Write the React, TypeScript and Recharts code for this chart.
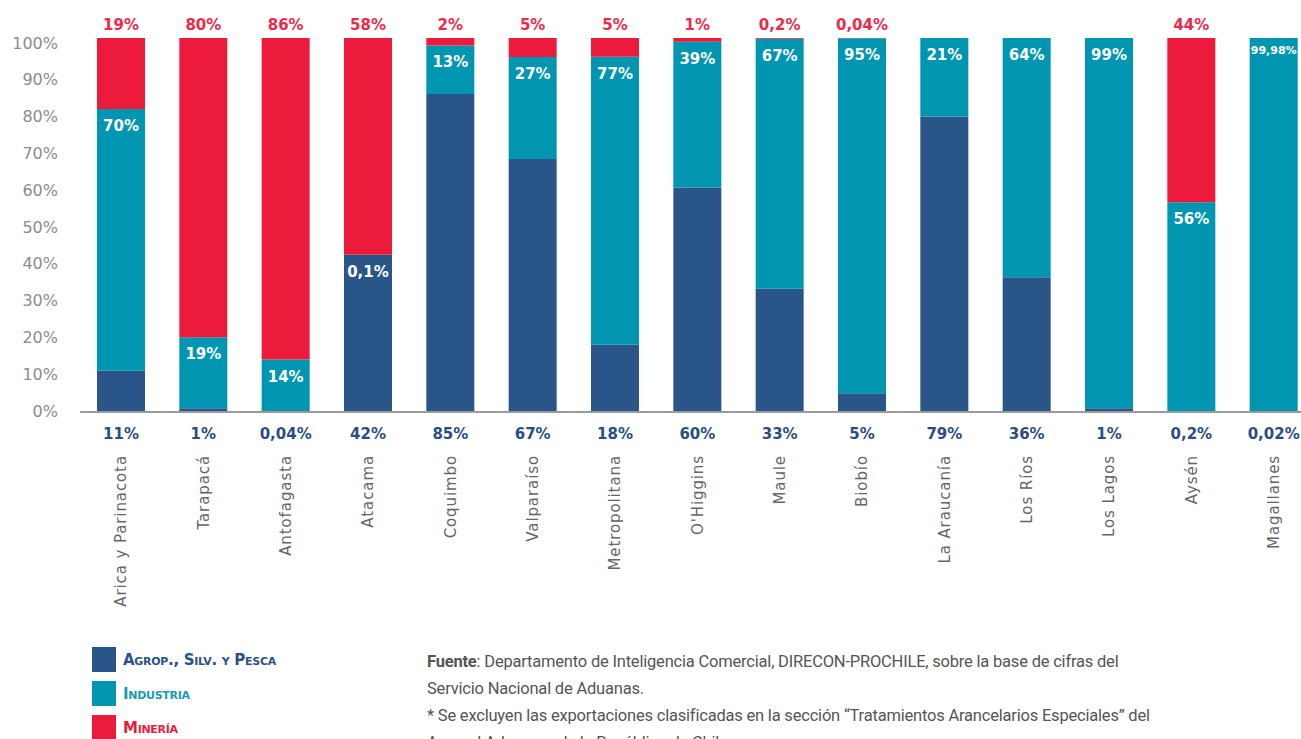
import { BarChart, Bar, XAxis, YAxis, LabelList } from "recharts";

const REGIONS = [
  "Arica y Parinacota", "Tarapacá", "Antofagasta", "Atacama", "Coquimbo",
  "Valparaíso", "Metropolitana", "O'Higgins", "Maule", "Biobío",
  "La Araucanía", "Los Ríos", "Los Lagos", "Aysén", "Magallanes",
];

// share of each sector per region (%)
const AGRO = [11, 1, 0.04, 42, 85, 67, 18, 60, 33, 5, 79, 36, 1, 0.2, 0.02];
const INDUSTRIA = [70, 19, 14, 0.1, 13, 27, 77, 39, 67, 95, 21, 64, 99, 56, 99.98];
const MINERIA = [19, 80, 86, 58, 2, 5, 5, 1, 0.2, 0.04, 0, 0, 0, 44, 0];

const AGRO_LABELS = ["11%", "1%", "0,04%", "42%", "85%", "67%", "18%", "60%", "33%", "5%", "79%", "36%", "1%", "0,2%", "0,02%"];
const INDUSTRIA_LABELS = ["70%", "19%", "14%", "0,1%", "13%", "27%", "77%", "39%", "67%", "95%", "21%", "64%", "99%", "56%", "99,98%"];
const MINERIA_LABELS = ["19%", "80%", "86%", "58%", "2%", "5%", "5%", "1%", "0,2%", "0,04%", "0%", "0%", "0%", "44%", "0%"];

const Y_TICKS = [0, 0.1, 0.2, 0.3, 0.4, 0.5, 0.6, 0.7, 0.8, 0.9, 1];

const BLUE = "#2A5589";
const TEAL = "#0095B1";
const RED = "#EC1B3B";

const data = REGIONS.map((region, i) => ({
  region,
  agro: AGRO[i],
  industria: INDUSTRIA[i],
  mineria: MINERIA[i],
  agroLabel: AGRO_LABELS[i],
  industriaLabel: INDUSTRIA_LABELS[i],
  mineriaLabel: MINERIA_LABELS[i],
}));

const boldFont = "'DejaVu Sans', sans-serif";

// the original's % labels sit a bit lower than the bar scale near the top
const PercentTick = (props: any) => {
  const { x, y, payload } = props;
  const shift = -1 + payload.value * 6;
  return (
    <text x={x} y={y + shift} dy="0.35em" textAnchor="end" fill="#8c8c8c" fontSize={16} fontFamily="'DejaVu Sans', sans-serif">
      {`${Math.round(payload.value * 100)}%`}
    </text>
  );
};

const RegionTick = (props: any) => {
  const { x, payload } = props;
  return (
    <g transform={`translate(${x},455) rotate(-90)`}>
      <text x={0} y={0} dy="0.35em" textAnchor="end" fill="#666" fontSize={15} letterSpacing={0.9} fontFamily="'DejaVu Sans', sans-serif">
        {payload.value}
      </text>
    </g>
  );
};

const AgroLabel = (props: any) => {
  const { x, y, width, height, value } = props;
  return (
    <text x={x + width / 2} y={y + height + 27} textAnchor="middle" fill="#2B4E80" fontSize={15} fontWeight="bold" fontFamily={boldFont}>
      {value}
    </text>
  );
};

const IndustriaLabel = (props: any) => {
  const { x, y, width, value } = props;
  const small = String(value).length > 5;
  return (
    <text x={x + width / 2} y={y + (small ? 16 : 22)} textAnchor="middle" fill="#fff" fontSize={small ? 11 : 15} fontWeight="bold" fontFamily={boldFont}>
      {value}
    </text>
  );
};

const MineriaLabel = (props: any) => {
  const { x, y, width, value } = props;
  return (
    <text x={x + width / 2} y={y - 8} textAnchor="middle" fill="#EE2A4B" fontSize={15} fontWeight="bold" fontFamily={boldFont}>
      {value}
    </text>
  );
};

const LEGEND = [
  { name: "Agrop., Silv. y Pesca", color: BLUE, text: "#2B5287" },
  { name: "Industria", color: TEAL, text: "#1C9AB5" },
  { name: "Minería", color: RED, text: RED },
];

export default function App() {
  return (
    <div style={{ position: "absolute", left: 0, top: 0, width: 1301, height: 739, overflow: "hidden", background: "#fff" }}>
      <BarChart
        width={1320}
        height={620}
        data={data}
        stackOffset="expand"
        margin={{ top: 38, right: 5, bottom: 0, left: 0 }}
      >
        <XAxis
          dataKey="region"
          interval={0}
          tickLine={false}
          axisLine={{ stroke: "#9a9a9a", strokeWidth: 2 }}
          height={208}
          tick={<RegionTick />}
        />
        <YAxis
          domain={[0, 1]}
          ticks={Y_TICKS}
          width={80}
          axisLine={false}
          tickLine={false}
          tickSize={0}
          tickMargin={22}
          tick={<PercentTick />}
        />
        <Bar dataKey="agro" stackId="a" fill={BLUE} barSize={48} isAnimationActive={false}>
          <LabelList dataKey="agroLabel" content={<AgroLabel />} />
        </Bar>
        <Bar dataKey="industria" stackId="a" fill={TEAL} barSize={48} isAnimationActive={false}>
          <LabelList dataKey="industriaLabel" content={<IndustriaLabel />} />
        </Bar>
        <Bar dataKey="mineria" stackId="a" fill={RED} barSize={48} isAnimationActive={false}>
          <LabelList dataKey="mineriaLabel" content={<MineriaLabel />} />
        </Bar>
      </BarChart>

      <div style={{ position: "absolute", left: 92, top: 647 }}>
        {LEGEND.map((item, i) => (
          <div key={item.name} style={{ display: "flex", alignItems: "center", height: 25, marginBottom: i < 2 ? 9 : 0 }}>
            <div style={{ width: 24, height: 25, background: item.color }} />
            <span
              style={{
                marginLeft: 7,
                color: item.text,
                fontFamily: boldFont,
                fontWeight: "bold",
                fontSize: 15,
                fontVariant: "small-caps",
                letterSpacing: -0.3,
              }}
            >
              {item.name}
            </span>
          </div>
        ))}
      </div>

      <div
        style={{
          position: "absolute",
          left: 427,
          top: 648,
          width: 800,
          fontFamily: "Roboto, sans-serif",
          fontSize: 16.5,
          lineHeight: "27px",
          color: "#555",
          letterSpacing: -0.2,
          whiteSpace: "nowrap",
        }}
      >
        <div><b>Fuente</b>: Departamento de Inteligencia Comercial, DIRECON-PROCHILE, sobre la base de cifras del</div>
        <div>Servicio Nacional de Aduanas.</div>
        <div>* Se excluyen las exportaciones clasificadas en la sección “Tratamientos Arancelarios Especiales” del</div>
        <div>Arancel Aduanero de la República de Chile.</div>
      </div>
    </div>
  );
}
